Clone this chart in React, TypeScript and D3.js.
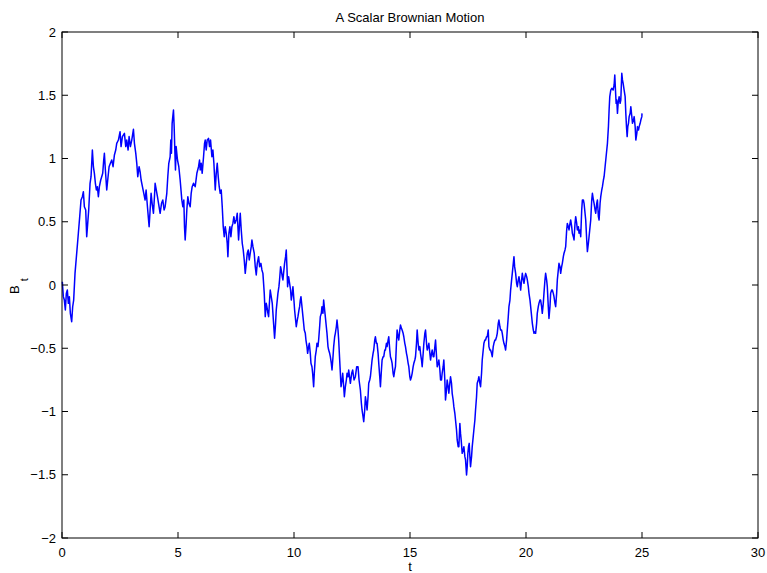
import React from "react";
import * as d3 from "d3";

const title = "A Scalar Brownian Motion";
const xLabel = "t";
const yLabelMain = "B";
const yLabelSub = "t";
const xTicks = [0, 5, 10, 15, 20, 25, 30];
const yTicks = [-2, -1.5, -1, -0.5, 0, 0.5, 1, 1.5, 2];
const xDomain: [number, number] = [0, 30];
const yDomain: [number, number] = [-2, 2];

// [t, B_t] samples
const pathSamples: [number, number][] = [
  [0.014, 0.026], [0.058, -0.092], [0.101, -0.119], [0.144, -0.198], [0.187, -0.066], [0.23, -0.04], [0.273, -0.145], [0.317, -0.092], [0.36, -0.224], [0.417, -0.29], [0.46, -0.172], [0.503, -0.119],
  [0.561, 0.092], [0.633, 0.25], [0.705, 0.409], [0.763, 0.54], [0.82, 0.672], [0.878, 0.698], [0.921, 0.738], [0.964, 0.619], [1.022, 0.593], [1.065, 0.382], [1.108, 0.487], [1.151, 0.593],
  [1.209, 0.804], [1.252, 0.856], [1.309, 1.067], [1.353, 0.935], [1.396, 0.883], [1.439, 0.804], [1.482, 0.751], [1.525, 0.777], [1.568, 0.698], [1.611, 0.777], [1.669, 0.83], [1.712, 0.856],
  [1.755, 0.883], [1.798, 0.988], [1.827, 1.041], [1.87, 0.909], [1.928, 0.751], [1.971, 0.83], [2.029, 0.935], [2.086, 0.962], [2.144, 0.988], [2.201, 0.935], [2.259, 1.028], [2.316, 1.067],
  [2.359, 1.12], [2.431, 1.146], [2.503, 1.212], [2.546, 1.094], [2.604, 1.173], [2.69, 1.199], [2.748, 1.094], [2.791, 1.146], [2.849, 1.067], [2.892, 1.173], [2.949, 1.094], [3.007, 1.146],
  [3.079, 1.231], [3.122, 1.12], [3.18, 1.041], [3.223, 0.962], [3.266, 0.856], [3.323, 0.935], [3.366, 0.896], [3.41, 0.83], [3.467, 0.777], [3.525, 0.725], [3.582, 0.672], [3.625, 0.751],
  [3.683, 0.619], [3.755, 0.461], [3.798, 0.593], [3.841, 0.725], [3.884, 0.646], [3.942, 0.567], [3.985, 0.698], [4.014, 0.804], [4.114, 0.698], [4.23, 0.567], [4.29, 0.646], [4.345, 0.672],
  [4.4, 0.593], [4.445, 0.619], [4.517, 0.725], [4.56, 0.856], [4.603, 0.962], [4.661, 1.014], [4.69, 1.146], [4.718, 1.041], [4.747, 1.278], [4.776, 1.331], [4.805, 1.383], [4.834, 1.252],
  [4.863, 1.067], [4.891, 0.909], [4.92, 1.094], [4.978, 0.988], [5.035, 0.935], [5.093, 0.83], [5.165, 0.672], [5.208, 0.619], [5.251, 0.672], [5.28, 0.461], [5.309, 0.356], [5.352, 0.487],
  [5.38, 0.593], [5.424, 0.698], [5.467, 0.646], [5.525, 0.619], [5.568, 0.725], [5.611, 0.777], [5.669, 0.804], [5.741, 0.777], [5.813, 0.883], [5.885, 0.935], [5.928, 0.988], [5.957, 0.909],
  [6.0, 0.962], [6.043, 0.883], [6.101, 1.014], [6.144, 1.12], [6.173, 1.146], [6.216, 1.067], [6.259, 1.146], [6.317, 1.159], [6.36, 1.094], [6.403, 1.146], [6.461, 1.014], [6.504, 1.067],
  [6.547, 0.962], [6.605, 0.751], [6.648, 0.883], [6.691, 0.962], [6.734, 0.856], [6.777, 0.777], [6.82, 0.725], [6.863, 0.751], [6.907, 0.619], [6.95, 0.461], [6.993, 0.382], [7.036, 0.461],
  [7.079, 0.409], [7.122, 0.33], [7.151, 0.224], [7.194, 0.409], [7.237, 0.461], [7.28, 0.382], [7.323, 0.461], [7.366, 0.487], [7.409, 0.54], [7.452, 0.487], [7.51, 0.514], [7.553, 0.567],
  [7.582, 0.461], [7.611, 0.356], [7.654, 0.487], [7.683, 0.567], [7.726, 0.435], [7.769, 0.33], [7.812, 0.277], [7.855, 0.198], [7.898, 0.092], [7.941, 0.171], [7.985, 0.251], [8.028, 0.277],
  [8.071, 0.198], [8.114, 0.251], [8.157, 0.303], [8.186, 0.356], [8.23, 0.303], [8.286, 0.251], [8.33, 0.145], [8.373, 0.079], [8.416, 0.171], [8.474, 0.224], [8.517, 0.145], [8.574, 0.171],
  [8.617, 0.119], [8.66, 0.092], [8.689, 0.013], [8.718, -0.066], [8.761, -0.25], [8.804, -0.145], [8.833, -0.171], [8.876, -0.224], [8.905, -0.25], [8.948, -0.119], [8.976, -0.04], [9.019, -0.092],
  [9.063, -0.145], [9.12, -0.303], [9.163, -0.421], [9.206, -0.303], [9.235, -0.198], [9.278, -0.119], [9.307, -0.066], [9.35, -0.013], [9.378, 0.04], [9.422, 0.145], [9.45, 0.119], [9.494, 0.066],
  [9.522, 0.04], [9.565, 0.119], [9.594, 0.171], [9.637, 0.224], [9.666, 0.277], [9.695, 0.145], [9.724, -0.013], [9.767, 0.066], [9.81, 0.013], [9.853, -0.04], [9.882, -0.119], [9.925, -0.066],
  [9.954, -0.013], [9.997, -0.119], [10.026, -0.198], [10.069, -0.277], [10.098, -0.33], [10.141, -0.277], [10.17, -0.25], [10.213, -0.198], [10.242, -0.171], [10.271, -0.119], [10.3, -0.092], [10.343, -0.171],
  [10.386, -0.25], [10.415, -0.303], [10.443, -0.356], [10.487, -0.382], [10.515, -0.435], [10.559, -0.487], [10.587, -0.54], [10.631, -0.487], [10.659, -0.461], [10.702, -0.54], [10.731, -0.619], [10.774, -0.646],
  [10.803, -0.698], [10.846, -0.804], [10.875, -0.698], [10.918, -0.567], [10.961, -0.514], [10.99, -0.461], [11.033, -0.487], [11.062, -0.435], [11.105, -0.33], [11.134, -0.25], [11.177, -0.224], [11.206, -0.171],
  [11.249, -0.224], [11.278, -0.119], [11.321, -0.198], [11.35, -0.25], [11.393, -0.33], [11.422, -0.382], [11.465, -0.487], [11.494, -0.514], [11.537, -0.54], [11.566, -0.567], [11.609, -0.619], [11.638, -0.672],
  [11.681, -0.567], [11.71, -0.487], [11.753, -0.409], [11.782, -0.382], [11.825, -0.33], [11.854, -0.277], [11.897, -0.356], [11.926, -0.435], [11.969, -0.593], [11.998, -0.698], [12.027, -0.804], [12.07, -0.751],
  [12.099, -0.698], [12.142, -0.804], [12.171, -0.883], [12.214, -0.804], [12.257, -0.751], [12.286, -0.698], [12.329, -0.725], [12.358, -0.672], [12.43, -0.777], [12.487, -0.698], [12.53, -0.672], [12.588, -0.751],
  [12.645, -0.725], [12.703, -0.646], [12.76, -0.646], [12.804, -0.751], [12.861, -0.83], [12.904, -0.935], [12.933, -0.988], [12.976, -1.041], [13.005, -1.08], [13.048, -0.988], [13.077, -0.883], [13.12, -0.935],
  [13.149, -0.988], [13.192, -0.883], [13.221, -0.777], [13.264, -0.751], [13.293, -0.725], [13.336, -0.646], [13.365, -0.593], [13.408, -0.54], [13.437, -0.514], [13.48, -0.435], [13.509, -0.409], [13.552, -0.461],
  [13.581, -0.461], [13.624, -0.54], [13.653, -0.619], [13.696, -0.725], [13.725, -0.804], [13.768, -0.672], [13.797, -0.593], [13.84, -0.567], [13.869, -0.567], [13.912, -0.514], [13.94, -0.514], [13.984, -0.461],
  [14.013, -0.487], [14.056, -0.435], [14.085, -0.409], [14.128, -0.514], [14.157, -0.567], [14.2, -0.593], [14.229, -0.619], [14.272, -0.698], [14.301, -0.725], [14.344, -0.672], [14.373, -0.646], [14.416, -0.461],
  [14.445, -0.356], [14.488, -0.409], [14.517, -0.435], [14.56, -0.356], [14.589, -0.316], [14.632, -0.343], [14.661, -0.356], [14.704, -0.382], [14.733, -0.409], [14.776, -0.461], [14.805, -0.487], [14.848, -0.54],
  [14.877, -0.567], [14.92, -0.619], [14.949, -0.646], [14.992, -0.725], [15.021, -0.751], [15.064, -0.725], [15.093, -0.698], [15.136, -0.646], [15.165, -0.619], [15.208, -0.593], [15.237, -0.567], [15.28, -0.461],
  [15.309, -0.356], [15.352, -0.461], [15.381, -0.514], [15.424, -0.487], [15.453, -0.54], [15.496, -0.593], [15.525, -0.646], [15.568, -0.54], [15.597, -0.461], [15.64, -0.382], [15.669, -0.356], [15.712, -0.461],
  [15.741, -0.514], [15.784, -0.487], [15.813, -0.461], [15.856, -0.54], [15.885, -0.593], [15.928, -0.54], [15.957, -0.514], [16.0, -0.567], [16.029, -0.567], [16.072, -0.487], [16.101, -0.435], [16.144, -0.567],
  [16.173, -0.646], [16.216, -0.619], [16.245, -0.593], [16.288, -0.672], [16.317, -0.751], [16.357, -0.751], [16.386, -0.698], [16.429, -0.646], [16.458, -0.593], [16.501, -0.751], [16.53, -0.909], [16.573, -0.83],
  [16.602, -0.751], [16.645, -0.804], [16.674, -0.856], [16.717, -0.777], [16.746, -0.725], [16.789, -0.777], [16.818, -0.856], [16.861, -0.909], [16.89, -0.962], [16.933, -1.014], [16.962, -1.067], [17.005, -1.146],
  [17.034, -1.225], [17.077, -1.278], [17.106, -1.278], [17.149, -1.094], [17.178, -1.173], [17.206, -1.225], [17.25, -1.331], [17.293, -1.304], [17.322, -1.278], [17.365, -1.357], [17.394, -1.383], [17.437, -1.502],
  [17.466, -1.436], [17.494, -1.331], [17.523, -1.278], [17.552, -1.252], [17.581, -1.357], [17.609, -1.436], [17.653, -1.357], [17.682, -1.278], [17.725, -1.199], [17.753, -1.146], [17.797, -1.067], [17.825, -0.988],
  [17.868, -0.883], [17.897, -0.777], [17.94, -0.751], [17.969, -0.725], [18.012, -0.777], [18.041, -0.804], [18.084, -0.698], [18.113, -0.593], [18.156, -0.514], [18.185, -0.461], [18.228, -0.435], [18.257, -0.435],
  [18.3, -0.409], [18.329, -0.409], [18.372, -0.356], [18.401, -0.487], [18.444, -0.514], [18.473, -0.514], [18.516, -0.54], [18.545, -0.567], [18.588, -0.487], [18.617, -0.461], [18.66, -0.435], [18.689, -0.435],
  [18.732, -0.409], [18.761, -0.382], [18.804, -0.303], [18.833, -0.277], [18.876, -0.33], [18.905, -0.356], [18.948, -0.356], [18.977, -0.382], [19.02, -0.435], [19.049, -0.461], [19.092, -0.487], [19.121, -0.514],
  [19.164, -0.435], [19.193, -0.356], [19.236, -0.251], [19.265, -0.171], [19.308, -0.119], [19.337, -0.04], [19.38, 0.04], [19.409, 0.092], [19.452, 0.171], [19.481, 0.224], [19.51, 0.145], [19.553, 0.092],
  [19.596, 0.013], [19.625, -0.013], [19.668, 0.04], [19.697, 0.066], [19.74, 0.013], [19.769, -0.04], [19.812, 0.04], [19.841, 0.092], [19.884, 0.04], [19.913, 0.013], [19.956, 0.066], [19.985, 0.092],
  [20.028, 0.066], [20.057, 0.04], [20.1, -0.013], [20.129, -0.066], [20.172, -0.119], [20.201, -0.171], [20.244, -0.251], [20.273, -0.303], [20.316, -0.356], [20.345, -0.382], [20.388, -0.369], [20.414, -0.382],
  [20.458, -0.303], [20.486, -0.224], [20.53, -0.171], [20.558, -0.145], [20.601, -0.119], [20.63, -0.119], [20.673, -0.171], [20.702, -0.224], [20.745, -0.145], [20.774, -0.066], [20.817, 0.04], [20.846, 0.092],
  [20.889, 0.04], [20.918, -0.013], [20.961, -0.171], [20.99, -0.264], [21.033, -0.171], [21.062, -0.066], [21.105, -0.04], [21.134, -0.04], [21.177, -0.066], [21.206, -0.092], [21.249, -0.145], [21.278, -0.171],
  [21.321, -0.066], [21.35, 0.04], [21.393, 0.119], [21.422, 0.171], [21.465, 0.145], [21.494, 0.092], [21.537, 0.145], [21.566, 0.171], [21.609, 0.224], [21.638, 0.251], [21.681, 0.277], [21.71, 0.303],
  [21.753, 0.435], [21.782, 0.487], [21.825, 0.461], [21.854, 0.435], [21.897, 0.487], [21.926, 0.514], [21.969, 0.461], [21.998, 0.409], [22.041, 0.382], [22.07, 0.356], [22.113, 0.487], [22.142, 0.54],
  [22.185, 0.487], [22.214, 0.435], [22.257, 0.461], [22.286, 0.409], [22.329, 0.435], [22.358, 0.382], [22.401, 0.593], [22.43, 0.672], [22.473, 0.672], [22.502, 0.646], [22.545, 0.567], [22.574, 0.514],
  [22.617, 0.356], [22.646, 0.264], [22.689, 0.33], [22.718, 0.382], [22.761, 0.461], [22.79, 0.514], [22.833, 0.672], [22.862, 0.725], [22.905, 0.672], [22.934, 0.646], [22.977, 0.593], [23.006, 0.567],
  [23.049, 0.646], [23.078, 0.672], [23.121, 0.54], [23.15, 0.514], [23.193, 0.646], [23.222, 0.698], [23.265, 0.751], [23.294, 0.777], [23.337, 0.83], [23.366, 0.856], [23.409, 0.935], [23.438, 0.988],
  [23.481, 1.067], [23.51, 1.12], [23.553, 1.252], [23.582, 1.383], [23.611, 1.489], [23.654, 1.541], [23.697, 1.555], [23.755, 1.541], [23.798, 1.581], [23.827, 1.66], [23.856, 1.541], [23.885, 1.436],
  [23.913, 1.462], [23.942, 1.357], [23.971, 1.436], [24.014, 1.489], [24.057, 1.436], [24.086, 1.462], [24.129, 1.673], [24.158, 1.621], [24.187, 1.594], [24.23, 1.541], [24.273, 1.489], [24.302, 1.357],
  [24.331, 1.252], [24.36, 1.173], [24.388, 1.252], [24.417, 1.278], [24.446, 1.331], [24.489, 1.357], [24.518, 1.41], [24.561, 1.331], [24.59, 1.278], [24.633, 1.304], [24.662, 1.331], [24.705, 1.252],
  [24.734, 1.146], [24.777, 1.199], [24.806, 1.252], [24.849, 1.225], [24.878, 1.252], [24.921, 1.278], [24.95, 1.304], [24.993, 1.331], [25.0, 1.357],
];

const W = 767;
const H = 573;
const left = 62;
const right = 758;
const top = 32;
const bottom = 538;
const tickLen = 6;
const font = "Helvetica, Arial, 'Liberation Sans', sans-serif";

export default function App() {
  const x = d3.scaleLinear().domain(xDomain).range([left, right]);
  const y = d3.scaleLinear().domain(yDomain).range([bottom, top]);
  const line = d3
    .line<[number, number]>()
    .x((d) => x(d[0]))
    .y((d) => y(d[1]));

  return (
    <svg
      width={W}
      height={H}
      style={{ position: "absolute", left: 0, top: 0, background: "#fff" }}
      fontFamily={font}
    >
      <rect x={0} y={0} width={W} height={H} fill="#fff" />
      <path d={line(pathSamples) || ""} fill="none" stroke="#0000ff" strokeWidth={1.5} strokeLinejoin="round" />
      <rect x={left} y={top} width={right - left} height={bottom - top} fill="none" stroke="#000" strokeWidth={1} />
      {xTicks.map((t) => (
        <g key={"x" + t}>
          <line x1={x(t)} x2={x(t)} y1={bottom} y2={bottom - tickLen} stroke="#000" />
          <line x1={x(t)} x2={x(t)} y1={top} y2={top + tickLen} stroke="#000" />
          <text x={x(t)} y={557} textAnchor="middle" fontSize={13} fill="#000">
            {t}
          </text>
        </g>
      ))}
      {yTicks.map((v) => (
        <g key={"y" + v}>
          <line x1={left} x2={left + tickLen} y1={y(v)} y2={y(v)} stroke="#000" />
          <line x1={right} x2={right - tickLen} y1={y(v)} y2={y(v)} stroke="#000" />
          <text x={56} y={y(v) + 4.5} textAnchor="end" fontSize={13} fill="#000">
            {v < 0 ? "\u2212" + Math.abs(v) : String(v)}
          </text>
        </g>
      ))}
      <text x={(left + right) / 2} y={22} textAnchor="middle" fontSize={13} fill="#000">
        {title}
      </text>
      <text x={(left + right) / 2} y={571} textAnchor="middle" fontSize={13} fill="#000">
        {xLabel}
      </text>
      <g transform="translate(19,294) rotate(-90)">
        <text x={0} y={0} textAnchor="start" fontSize={13} fill="#000">
          {yLabelMain}
          <tspan fontSize={11} dx={4} dy={9}>
            {yLabelSub}
          </tspan>
        </text>
      </g>
    </svg>
  );
}
